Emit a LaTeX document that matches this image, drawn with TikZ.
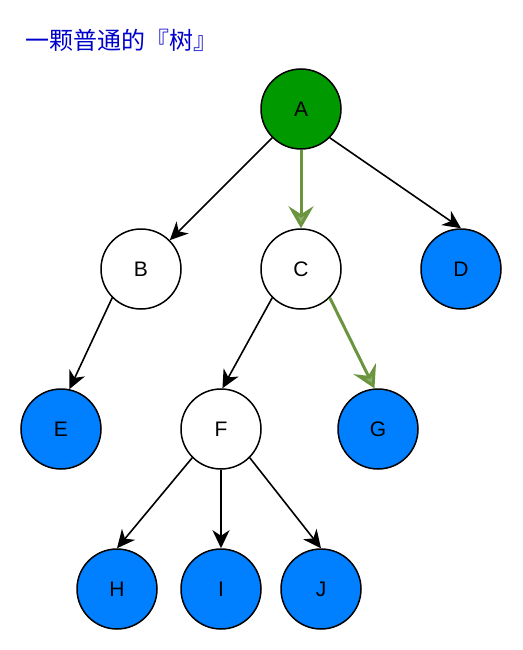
\documentclass[tikz,border=0pt]{standalone}
\usepackage{fontspec}
\setmainfont{Liberation Sans}
\newfontfamily\cjk{Noto Sans CJK SC}
\usetikzlibrary{arrows.meta}
\definecolor{nodegreen}{RGB}{0,153,0}
\definecolor{leafblue}{RGB}{0,127,255}
\definecolor{pathgreen}{RGB}{106,148,62}
\definecolor{titleblue}{RGB}{0,0,204}
\tikzset{
  tnode/.style={circle, draw=black, line width=1.5pt, minimum size=80pt, inner sep=0pt, font=\fontsize{21}{24}\selectfont},
  innode/.style={tnode, fill=white},
  leafnode/.style={tnode, fill=leafblue},
  rootnode/.style={tnode, fill=nodegreen},
  conn/.style={draw=black, line width=1.6pt, -{Stealth[length=18pt,width=17pt,inset=5.5pt]}},
  hlconn/.style={draw=pathgreen, line width=3pt, -{Stealth[length=22pt,width=25pt,inset=8pt,open,fill=pathgreen!75]}},
}
\begin{document}
\begin{tikzpicture}[x=1pt,y=-1pt]
\useasboundingbox (0,0) rectangle (522,650);
\node[anchor=west, text=titleblue, font=\cjk\fontsize{24}{26}\selectfont, inner sep=0pt] (title) at (25,40) {一颗普通的『树』};
\node[rootnode] (A) at (301,109) {A};
\node[innode] (B) at (141,269) {B};
\node[innode] (C) at (301,269) {C};
\node[leafnode] (D) at (461,269) {D};
\node[leafnode] (E) at (61,429) {E};
\node[innode] (F) at (221,429) {F};
\node[leafnode] (G) at (378,429) {G};
\node[leafnode] (H) at (117,589) {H};
\node[leafnode] (I) at (221,589) {I};
\node[leafnode] (J) at (321,589) {J};
\draw[conn] (A.225) -- (B.45);
\draw[conn] (A.-45) -- (D.north);
\draw[conn] (B.225) -- (E.78);
\draw[conn] (C.225) -- (F.88);
\draw[conn] (F.225) -- (H.north);
\draw[conn] (F.south) -- (I.north);
\draw[conn] (F.-45) -- (J.north);
\draw[hlconn] (A.south) -- (C.north);
\draw[hlconn] (C.-45) -- (G.95);
\end{tikzpicture}
\end{document}
